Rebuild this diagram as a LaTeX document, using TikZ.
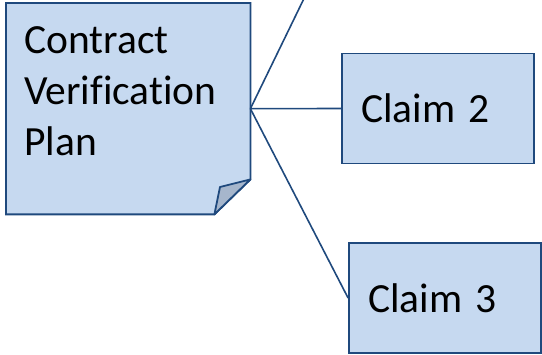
\documentclass[tikz,border=0pt]{standalone}
\usepackage{fontspec}
\setmainfont{Carlito}[Ligatures=NoCommon]
\definecolor{boxfill}{RGB}{198,217,240}
\definecolor{boxline}{RGB}{31,73,125}
\definecolor{foldfill}{RGB}{166,182,204}
\tikzset{
  claimbox/.style={draw=boxline, fill=boxfill, line width=1.8pt, minimum width=192pt, minimum height=110pt,
    text width=154pt, inner xsep=19pt, inner ysep=0pt, align=left, font=\fontsize{41.5}{51}\selectfont},
  link/.style={draw=boxline, line width=1.6pt},
  doc/.style={draw=boxline, fill=boxfill, line width=1.8pt, line join=miter},
  fold/.style={draw=boxline, fill=foldfill, line width=1.8pt, line join=round},
}
\begin{document}
\begin{tikzpicture}[x=1pt,y=-1pt]
\useasboundingbox (0,0) rectangle (542,355);
\clip (0,0) rectangle (542,355);
% main document node (frame only used for anchors)
\node[inner sep=0, minimum width=244pt, minimum height=211pt, anchor=north west] (plan) at (6,3) {};
\coordinate (fa) at ([xshift=-36pt]plan.south east);
\coordinate (fb) at ([yshift=35pt]plan.south east);
\coordinate (fc) at (220,187);
\draw[doc] (plan.north west) -- (plan.north east) -- (fb) -- (fa) -- (plan.south west) -- cycle;
\draw[fold] (fa) -- (fc) -- (fb) -- cycle;
\node[anchor=base west, align=left, inner sep=0, font=\fontsize{41.5}{51}\selectfont] (plantext) at (24,156) {Contract\\Verification\\Plan};
% claims
\node[claimbox] (claim2) at (438,108.5) {Claim 2};
\node[claimbox] (claim3) at (445,298) {Claim 3};
\coordinate (claim1) at (331,-57);
% connectors
\draw[link] (plan.east) -- (claim1);
\draw[link] (plan.east) -- (claim2.west);
\draw[link] (plan.east) -- (claim3.west);
\end{tikzpicture}
\end{document}
